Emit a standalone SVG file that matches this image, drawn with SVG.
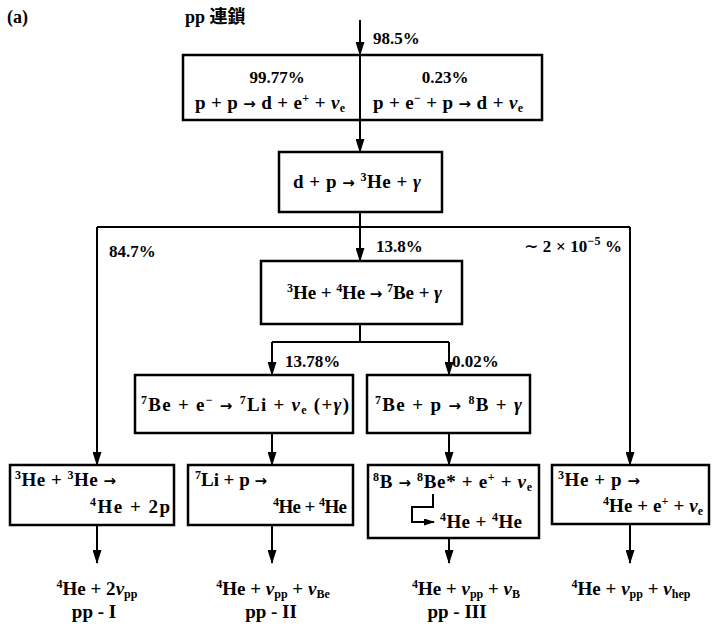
<svg xmlns="http://www.w3.org/2000/svg" width="712" height="628" viewBox="0 0 712 628">
<defs>
<style>
.t{font-family:"Liberation Serif","DejaVu Serif","Noto Sans CJK JP",serif;font-weight:bold;font-size:17px;fill:#000}
.f{font-size:19px}
.c{text-anchor:middle}
.s{font-size:12px}
.i{font-style:italic}
.a{font-family:"DejaVu Sans",sans-serif;font-size:15px}
.box{fill:#fff;stroke:#000;stroke-width:2.5}
.ln{fill:none;stroke:#000;stroke-width:2}
</style>
<marker id="ar" markerUnits="userSpaceOnUse" markerWidth="14" markerHeight="9" refX="13" refY="4.5" orient="auto">
<path d="M0,0 L14,4.5 L0,9 z" fill="#000"/>
</marker>
<marker id="ars" markerUnits="userSpaceOnUse" markerWidth="11" markerHeight="7" refX="10" refY="3.5" orient="auto">
<path d="M0,0 L11,3.5 L0,7 z" fill="#000"/>
</marker>
</defs>
<rect width="712" height="628" fill="#fff"/>

<g id="connectors">
<line class="ln" x1="360" y1="20" x2="360" y2="55" marker-end="url(#ar)"/>
<line class="ln" x1="360" y1="120" x2="360" y2="152" marker-end="url(#ar)"/>
<polyline class="ln" points="360,212 360,227"/>
<line class="ln" x1="97" y1="227" x2="630" y2="227"/>
<line class="ln" x1="360" y1="227" x2="360" y2="261" marker-end="url(#ar)"/>
<line class="ln" x1="97" y1="227" x2="97" y2="465" marker-end="url(#ar)"/>
<line class="ln" x1="630" y1="227" x2="630" y2="465" marker-end="url(#ar)"/>
<line class="ln" x1="360" y1="324" x2="360" y2="342"/>
<line class="ln" x1="272" y1="342" x2="449" y2="342"/>
<line class="ln" x1="272" y1="342" x2="272" y2="375" marker-end="url(#ar)"/>
<line class="ln" x1="449" y1="342" x2="449" y2="375" marker-end="url(#ar)"/>
<line class="ln" x1="272" y1="433" x2="272" y2="465" marker-end="url(#ar)"/>
<line class="ln" x1="449" y1="433" x2="449" y2="465" marker-end="url(#ar)"/>
<line class="ln" x1="97" y1="525" x2="97" y2="563" marker-end="url(#ar)"/>
<line class="ln" x1="272" y1="525" x2="272" y2="563" marker-end="url(#ar)"/>
<line class="ln" x1="449" y1="538" x2="449" y2="563" marker-end="url(#ar)"/>
<line class="ln" x1="630" y1="524" x2="630" y2="563" marker-end="url(#ar)"/>
</g>

<g id="labels">
<text class="t" x="7" y="23" style="font-size:18px">(a)</text>
<text class="t" x="185" y="23" style="font-size:18px">pp 連鎖</text>
<text class="t" x="373" y="44">98.5%</text>
<text class="t" x="109" y="257">84.7%</text>
<text class="t" x="376" y="252">13.8%</text>
<text class="t" x="524" y="252" textLength="98" lengthAdjust="spacing">∼ 2 × 10<tspan class="s" dy="-7">−5</tspan><tspan dy="7"> %</tspan></text>
<text class="t" x="285" y="367">13.78%</text>
<text class="t" x="452" y="367">0.02%</text>
</g>

<g id="pp-start">
<rect class="box" x="183" y="55" width="359" height="65"/>
<line class="ln" x1="360" y1="55" x2="360" y2="120"/>
<text class="t c" x="277" y="83">99.77%</text>
<text class="t f" x="195" y="109" textLength="150" lengthAdjust="spacing">p + p <tspan class="a">→</tspan> d + e<tspan class="s" dy="-7">+</tspan><tspan dy="7"> + </tspan><tspan class="i">ν</tspan><tspan class="s" dy="3">e</tspan></text>
<text class="t c" x="445" y="83">0.23%</text>
<text class="t f" x="373" y="109" textLength="150" lengthAdjust="spacing">p + e<tspan class="s" dy="-7">−</tspan><tspan dy="7"> + p </tspan><tspan class="a">→</tspan> d + <tspan class="i">ν</tspan><tspan class="s" dy="3">e</tspan></text>
</g>

<g id="d-p">
<rect class="box" x="279" y="152" width="163" height="60"/>
<text class="t f" x="293" y="188" textLength="128" lengthAdjust="spacing">d + p <tspan class="a">→</tspan> <tspan class="s" dy="-7">3</tspan><tspan dy="7">He + </tspan><tspan class="i">γ</tspan></text>
</g>

<g id="he3-he4">
<rect class="box" x="261" y="261" width="201" height="63"/>
<text class="t f" x="287" y="299" textLength="155" lengthAdjust="spacing"><tspan class="s" dy="-7">3</tspan><tspan dy="7">He + </tspan><tspan class="s" dy="-7">4</tspan><tspan dy="7">He </tspan><tspan class="a">→</tspan> <tspan class="s" dy="-7">7</tspan><tspan dy="7">Be + </tspan><tspan class="i">γ</tspan></text>
</g>

<g id="be7-e">
<rect class="box" x="135" y="375" width="218" height="58"/>
<text class="t f" x="141" y="411" textLength="208" lengthAdjust="spacing"><tspan class="s" dy="-7">7</tspan><tspan dy="7">Be + e</tspan><tspan class="s" dy="-7">−</tspan><tspan dy="7"> </tspan><tspan class="a">→</tspan> <tspan class="s" dy="-7">7</tspan><tspan dy="7">Li + </tspan><tspan class="i">ν</tspan><tspan class="s" dy="3">e</tspan><tspan dy="-3"> (+</tspan><tspan class="i">γ</tspan><tspan>)</tspan></text>
</g>

<g id="be7-p">
<rect class="box" x="367" y="375" width="163" height="58"/>
<text class="t f" x="375" y="411" textLength="147" lengthAdjust="spacing"><tspan class="s" dy="-7">7</tspan><tspan dy="7">Be + p </tspan><tspan class="a">→</tspan> <tspan class="s" dy="-7">8</tspan><tspan dy="7">B + </tspan><tspan class="i">γ</tspan></text>
</g>

<g id="pp1-box">
<rect class="box" x="10" y="465" width="164" height="60"/>
<text class="t f" x="15" y="486" textLength="101" lengthAdjust="spacing"><tspan class="s" dy="-7">3</tspan><tspan dy="7">He + </tspan><tspan class="s" dy="-7">3</tspan><tspan dy="7">He </tspan><tspan class="a">→</tspan></text>
<text class="t f" x="90" y="513" textLength="80" lengthAdjust="spacing"><tspan class="s" dy="-7">4</tspan><tspan dy="7">He + 2p</tspan></text>
</g>

<g id="pp2-box">
<rect class="box" x="188" y="465" width="165" height="60"/>
<text class="t f" x="195" y="486" textLength="72" lengthAdjust="spacing"><tspan class="s" dy="-7">7</tspan><tspan dy="7">Li + p </tspan><tspan class="a">→</tspan></text>
<text class="t f" x="273" y="513" textLength="74" lengthAdjust="spacing"><tspan class="s" dy="-7">4</tspan><tspan dy="7">He + </tspan><tspan class="s" dy="-7">4</tspan><tspan dy="7">He</tspan></text>
</g>

<g id="pp3-box">
<rect class="box" x="368" y="465" width="171" height="73"/>
<text class="t f" x="373" y="488" textLength="159" lengthAdjust="spacing"><tspan class="s" dy="-7">8</tspan><tspan dy="7">B </tspan><tspan class="a">→</tspan> <tspan class="s" dy="-7">8</tspan><tspan dy="7">Be* + e</tspan><tspan class="s" dy="-7">+</tspan><tspan dy="7"> + </tspan><tspan class="i">ν</tspan><tspan class="s" dy="3">e</tspan></text>
<path class="ln" d="M433,494 V507 H412 V522 H434" stroke-width="1.6" marker-end="url(#ars)"/>
<text class="t f" x="440" y="528" textLength="82" lengthAdjust="spacing"><tspan class="s" dy="-7">4</tspan><tspan dy="7">He + </tspan><tspan class="s" dy="-7">4</tspan><tspan dy="7">He</tspan></text>
</g>

<g id="hep-box">
<rect class="box" x="552" y="465" width="157" height="59"/>
<text class="t f" x="558" y="486" textLength="82" lengthAdjust="spacing"><tspan class="s" dy="-7">3</tspan><tspan dy="7">He + p </tspan><tspan class="a">→</tspan></text>
<text class="t f" x="603" y="512" textLength="100" lengthAdjust="spacing"><tspan class="s" dy="-7">4</tspan><tspan dy="7">He + e</tspan><tspan class="s" dy="-7">+</tspan><tspan dy="7"> + </tspan><tspan class="i">ν</tspan><tspan class="s" dy="3">e</tspan></text>
</g>

<g id="pp1">
<text class="t f c" x="97" y="595"><tspan class="s" dy="-7">4</tspan><tspan dy="7">He + 2</tspan><tspan class="i">ν</tspan><tspan class="s" dy="3">pp</tspan></text>
<text class="t f c" x="94" y="618">pp - I</text>
</g>
<g id="pp2">
<text class="t f c" x="273" y="595"><tspan class="s" dy="-7">4</tspan><tspan dy="7">He + </tspan><tspan class="i">ν</tspan><tspan class="s" dy="3">pp</tspan><tspan dy="-3"> + </tspan><tspan class="i">ν</tspan><tspan class="s" dy="3">Be</tspan></text>
<text class="t f c" x="271" y="618">pp - II</text>
</g>
<g id="pp3">
<text class="t f c" x="466" y="595"><tspan class="s" dy="-7">4</tspan><tspan dy="7">He + </tspan><tspan class="i">ν</tspan><tspan class="s" dy="3">pp</tspan><tspan dy="-3"> + </tspan><tspan class="i">ν</tspan><tspan class="s" dy="3">B</tspan></text>
<text class="t f c" x="457" y="618">pp - III</text>
</g>
<g id="hep">
<text class="t f c" x="631" y="595"><tspan class="s" dy="-7">4</tspan><tspan dy="7">He + </tspan><tspan class="i">ν</tspan><tspan class="s" dy="3">pp</tspan><tspan dy="-3"> + </tspan><tspan class="i">ν</tspan><tspan class="s" dy="3">hep</tspan></text>
</g>
</svg>
